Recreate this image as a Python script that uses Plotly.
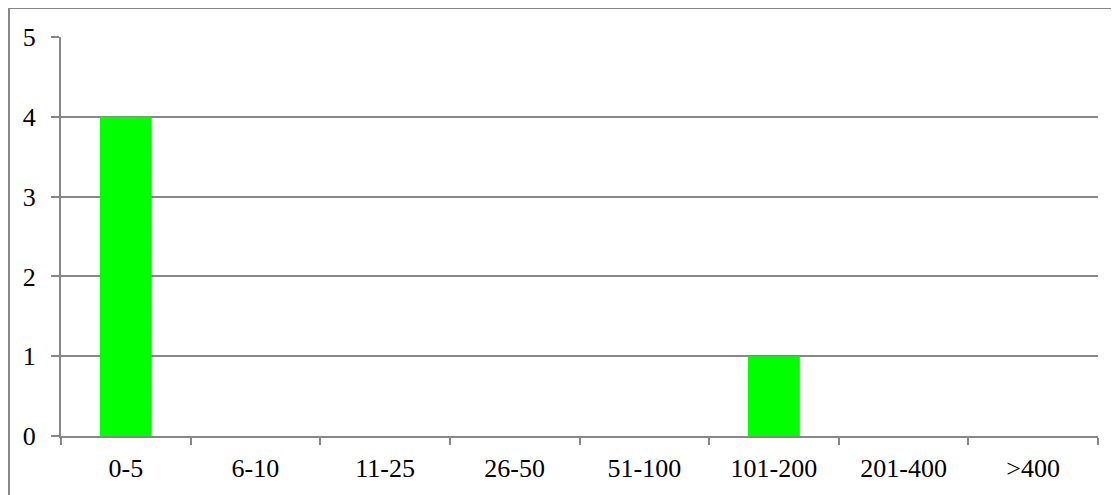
import plotly.graph_objects as go

categories = ["0-5", "6-10", "11-25", "26-50", "51-100", "101-200", "201-400", ">400"]
values = [4, 0, 0, 0, 0, 1, 0, 0]
y_ticks = [0, 1, 2, 3, 4, 5]

# page has an 8px body margin, so figure coords = page coords - 8
W, H = 1111, 487
L, R, T, B = 53, 21, 29, 59
GRAY = "#878787"
FONT = dict(family="Liberation Serif", size=26, color="black")

fig = go.Figure(go.Bar(x=categories, y=values, marker=dict(color="#00FF00", line=dict(width=0))))

pw = W - L - R
ph = H - T - B
def px_x(p):
    return (p - L) / pw
def px_y(p):
    return (H - B - p) / ph

fig.update_layout(
    width=W, height=H,
    margin=dict(l=L, r=R, t=T, b=B),
    paper_bgcolor="white", plot_bgcolor="white",
    bargap=0.6,
    showlegend=False,
    font=FONT,
    xaxis=dict(
        type="category", showgrid=False, showline=True, linecolor=GRAY, linewidth=2,
        ticks="outside", tickson="boundaries", ticklen=7, tickwidth=2, tickcolor=GRAY,
        tickfont=FONT, zeroline=False, ticklabelstandoff=8,
    ),
    yaxis=dict(
        range=[0, 5], tickvals=y_ticks, showgrid=True, gridcolor=GRAY, gridwidth=2,
        showline=True, linecolor=GRAY, linewidth=2, zeroline=False,
        ticks="outside", ticklen=8, tickwidth=2, tickcolor=GRAY, tickfont=FONT,
        ticklabelstandoff=10,
    ),
    shapes=[dict(
        type="rect", xref="paper", yref="paper",
        x0=px_x(1), x1=px_x(1140), y0=px_y(520), y1=px_y(0),
        line=dict(color=GRAY, width=2), fillcolor="rgba(0,0,0,0)", layer="below",
    )],
)

fig.write_html("out.html")
